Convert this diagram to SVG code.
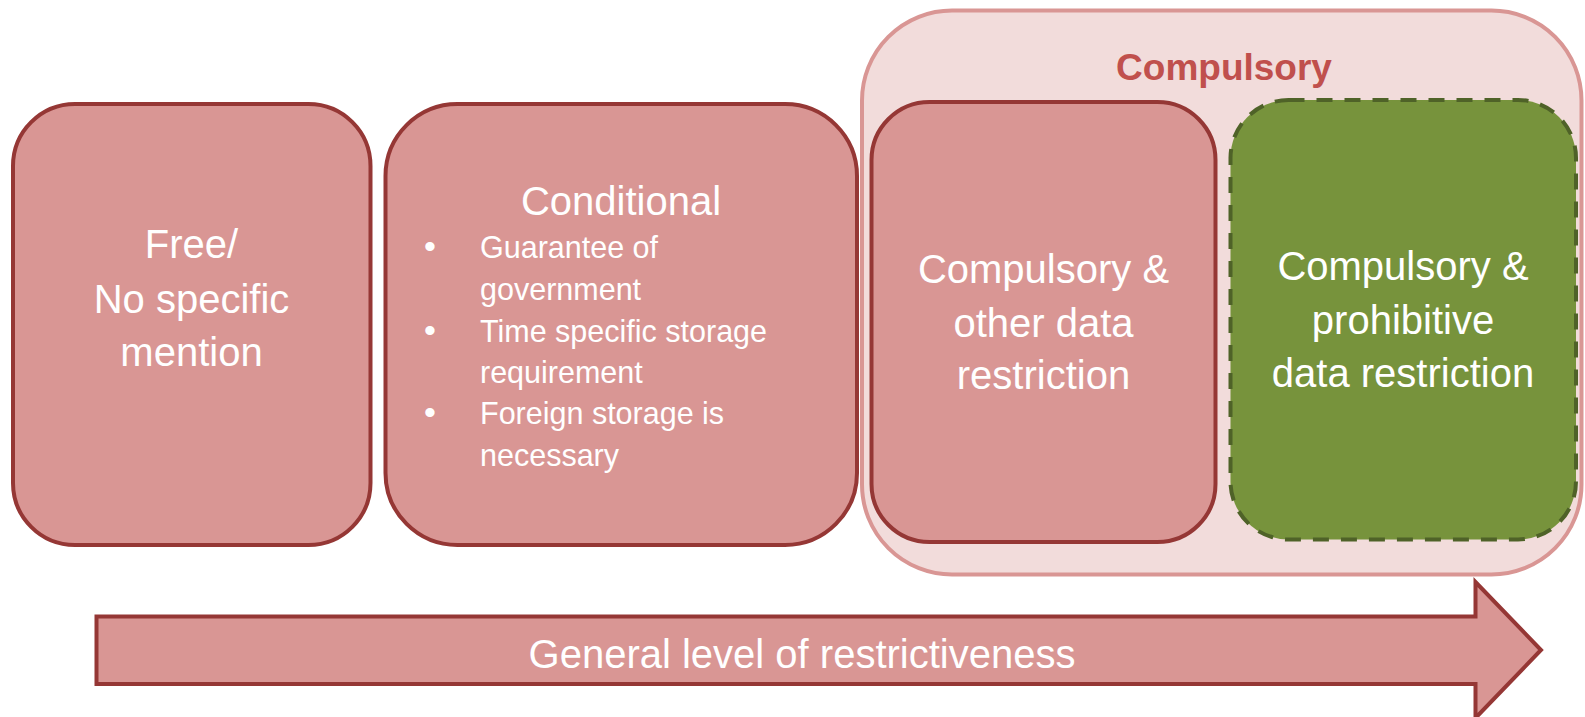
<svg xmlns="http://www.w3.org/2000/svg" width="1585" height="717" viewBox="0 0 1585 717">
<style>
.box{fill:#D99694;stroke:#953735;stroke-width:4}
.lbl{font-family:"Liberation Sans",Arial,sans-serif;font-size:40px;fill:#FFFFFF;text-anchor:middle}
.bul{font-family:"Liberation Sans",Arial,sans-serif;font-size:30.5px;fill:#FFFFFF}
</style>
<rect width="1585" height="717" fill="#FFFFFF"/>
<g id="compulsory-group">
<rect x="862" y="10.5" width="719.5" height="564" rx="90" ry="90" fill="#F2DCDB" stroke="#D99694" stroke-width="4"/>
<text x="1224" y="80" font-family="Liberation Sans,Arial,sans-serif" font-size="37" font-weight="bold" fill="#C0504D" text-anchor="middle">Compulsory</text>
</g>
<g id="node-free">
<rect class="box" x="13" y="104" width="357.5" height="441" rx="62" ry="62"/>
<text class="lbl" x="191.5" y="258">Free/</text>
<text class="lbl" x="191.5" y="313">No specific</text>
<text class="lbl" x="191.5" y="366">mention</text>
</g>
<g id="node-conditional">
<rect class="box" x="385.5" y="104" width="471.5" height="441" rx="72" ry="72"/>
<text class="lbl" x="621" y="215">Conditional</text>
<g class="bul">
<text x="430" y="258" text-anchor="middle" font-size="34">•</text>
<text x="480" y="258">Guarantee of</text>
<text x="480" y="300">government</text>
<text x="430" y="341.5" text-anchor="middle" font-size="34">•</text>
<text x="480" y="341.5">Time specific storage</text>
<text x="480" y="383">requirement</text>
<text x="430" y="424" text-anchor="middle" font-size="34">•</text>
<text x="480" y="424">Foreign storage is</text>
<text x="480" y="466">necessary</text>
</g>
</g>
<g id="node-compulsory-other">
<rect class="box" x="871.5" y="102" width="344" height="440" rx="58" ry="58"/>
<text class="lbl" x="1043.5" y="283">Compulsory &amp;</text>
<text class="lbl" x="1043.5" y="336.5">other data</text>
<text class="lbl" x="1043.5" y="389">restriction</text>
</g>
<g id="node-compulsory-prohibitive">
<rect x="1230.5" y="100" width="345.5" height="439.5" rx="58" ry="58" fill="#77933C" stroke="#4F6228" stroke-width="4" stroke-dasharray="16 12"/>
<text class="lbl" x="1403" y="280">Compulsory &amp;</text>
<text class="lbl" x="1403" y="333.5">prohibitive</text>
<text class="lbl" x="1403" y="387">data restriction</text>
</g>
<g id="connectors">
<polygon points="96.5,616.5 1475.5,616.5 1475.5,582 1541,650 1475.5,718 1475.5,684 96.5,684" fill="#D99694" stroke="#953735" stroke-width="4" stroke-linejoin="miter"/>
<text class="lbl" x="802" y="668">General level of restrictiveness</text>
</g>
</svg>
